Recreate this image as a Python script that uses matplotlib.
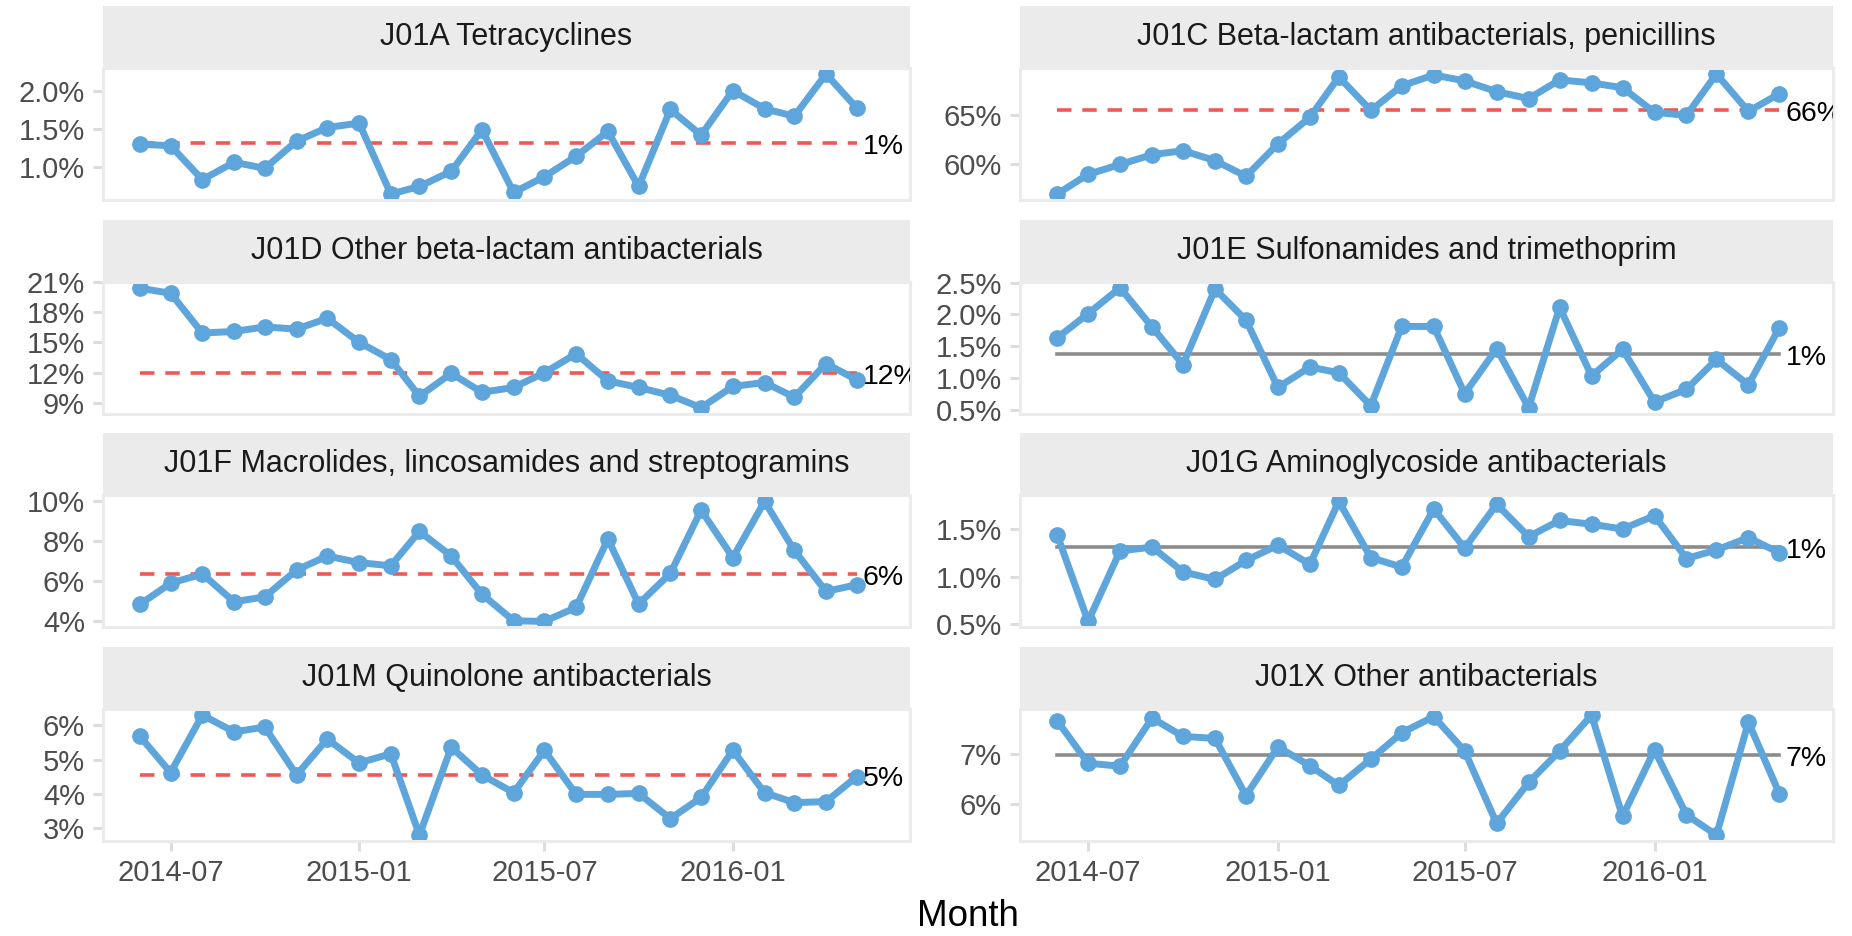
import numpy as np
import pandas as pd
import matplotlib
matplotlib.use('Agg')
import matplotlib.pyplot as plt
from matplotlib.transforms import offset_copy

plt.rcParams['font.family'] = ['Liberation Sans', 'DejaVu Sans']

# monthly share of each ATC group (percent)
months = pd.date_range('2014-06-01', '2016-05-01', freq='MS')

titles = ['J01A Tetracyclines',
          'J01C Beta-lactam antibacterials, penicillins',
          'J01D Other beta-lactam antibacterials',
          'J01E Sulfonamides and trimethoprim',
          'J01F Macrolides, lincosamides and streptogramins',
          'J01G Aminoglycoside antibacterials',
          'J01M Quinolone antibacterials',
          'J01X Other antibacterials']

j01a = [1.30, 1.28, 0.83, 1.06, 0.98, 1.34, 1.52, 1.58, 0.64, 0.74, 0.94, 1.49,
        0.66, 0.87, 1.14, 1.47, 0.74, 1.76, 1.42, 2.01, 1.77, 1.67, 2.23, 1.78]
j01c = [57.0, 59.0, 60.0, 61.0, 61.4, 60.4, 58.8, 62.1, 64.8, 68.9, 65.5, 68.0,
        69.1, 68.5, 67.4, 66.7, 68.6, 68.3, 67.8, 65.3, 65.0, 69.2, 65.4, 67.2]
j01d = [20.35, 19.86, 15.91, 16.07, 16.52, 16.30, 17.37, 15.0, 13.28, 9.65, 11.92, 10.04,
        10.52, 11.98, 13.86, 11.17, 10.52, 9.74, 8.51, 10.62, 11.01, 9.55, 12.89, 11.27]
j01e = [1.63, 2.01, 2.42, 1.80, 1.21, 2.40, 1.91, 0.85, 1.17, 1.08, 0.56, 1.81,
        1.81, 0.75, 1.46, 0.53, 2.11, 1.03, 1.45, 0.62, 0.82, 1.29, 0.89, 1.79]
j01f = [4.85, 5.91, 6.37, 4.98, 5.23, 6.57, 7.27, 6.94, 6.78, 8.50, 7.27, 5.36,
        4.03, 4.00, 4.70, 8.12, 4.87, 6.40, 9.56, 7.19, 10.0, 7.55, 5.50, 5.83]
j01g = [1.44, 0.53, 1.27, 1.31, 1.05, 0.97, 1.17, 1.33, 1.13, 1.79, 1.20, 1.10,
        1.71, 1.30, 1.76, 1.42, 1.59, 1.55, 1.50, 1.64, 1.19, 1.28, 1.41, 1.25]
j01m = [5.68, 4.62, 6.30, 5.81, 5.95, 4.55, 5.60, 4.90, 5.17, 2.79, 5.36, 4.55,
        4.03, 5.27, 3.98, 3.98, 4.01, 3.27, 3.89, 5.27, 4.03, 3.74, 3.77, 4.50]
j01x = [7.65, 6.81, 6.75, 7.70, 7.34, 7.30, 6.17, 7.13, 6.76, 6.37, 6.89, 7.41,
        7.73, 7.05, 5.62, 6.43, 7.05, 7.76, 5.76, 7.07, 5.79, 5.39, 7.62, 6.21]
series = [j01a, j01c, j01d, j01e, j01f, j01g, j01m, j01x]

ref_values = [1.32, 65.5, 12.0, 1.37, 6.37, 1.31, 4.55, 6.97]
ref_labels = ['1%', '66%', '12%', '1%', '6%', '1%', '5%', '7%']
ref_signif = [True, True, True, False, True, False, True, False]

y_ticks = [[1.0, 1.5, 2.0], [60, 65], [9, 12, 15, 18, 21], [0.5, 1.0, 1.5, 2.0, 2.5],
           [4, 6, 8, 10], [0.5, 1.0, 1.5], [3, 4, 5, 6], [6, 7]]
y_tick_labels = [['1.0%', '1.5%', '2.0%'], ['60%', '65%'],
                 ['9%', '12%', '15%', '18%', '21%'],
                 ['0.5%', '1.0%', '1.5%', '2.0%', '2.5%'],
                 ['4%', '6%', '8%', '10%'], ['0.5%', '1.0%', '1.5%'],
                 ['3%', '4%', '5%', '6%'], ['6%', '7%']]

x_ticks = pd.to_datetime(['2014-07-01', '2015-01-01', '2015-07-01', '2016-01-01'])
x_tick_labels = ['2014-07', '2015-01', '2015-07', '2016-01']

W, H = 1852, 936
fig = plt.figure(figsize=(W / 100, H / 100), dpi=100)

col_left = [103, 1020]
col_right = [910, 1833]
strip_h = 62
panel_h = 132
border = '#EBEBEB'

for i, title in enumerate(titles):
    row, col = divmod(i, 2)
    top = 6 + row * 213.7
    l = col_left[col] / W
    w = (col_right[col] - col_left[col]) / W

    sax = fig.add_axes([l, 1 - (top + strip_h) / H, w, strip_h / H])
    sax.set_facecolor(border)
    sax.set_xticks([])
    sax.set_yticks([])
    for s in sax.spines.values():
        s.set_visible(False)
    sax.text(0.5, 0.5, title, ha='center', va='center', fontsize=22, color='#1A1A1A',
             transform=sax.transAxes)

    ax = fig.add_axes([l, 1 - (top + strip_h + panel_h) / H, w, panel_h / H])
    ref_col = '#F15854' if ref_signif[i] else '#8C8C8C'
    ref_ls = (0, (4, 3)) if ref_signif[i] else '-'
    ax.plot([months[0], months[-1]], [ref_values[i], ref_values[i]], color=ref_col,
            lw=2.6, ls=ref_ls, zorder=1)
    ax.plot(months, series[i], color='#5DA5DA', lw=5, marker='o', ms=11,
            solid_joinstyle='round', zorder=2)
    lab_tr = offset_copy(ax.transData, fig=fig, x=0, y=-4, units='dots')
    ax.text(months[-1] + pd.Timedelta(days=6), ref_values[i], ref_labels[i],
            ha='left', va='center', fontsize=20.5, color='black', clip_on=True,
            transform=lab_tr, zorder=3)

    ax.set_xlim(pd.Timestamp('2014-04-26'), pd.Timestamp('2016-06-22'))
    ax.margins(y=0.05)
    ax.set_yticks(y_ticks[i])
    ax.set_yticklabels(y_tick_labels[i])
    ax.set_xticks(x_ticks)
    ax.set_xticklabels(x_tick_labels)
    ax.tick_params(axis='both', length=7, width=2.2, color='#DDDDDD',
                   labelsize=21, labelcolor='#4D4D4D', pad=6)
    if row < 3:
        ax.tick_params(axis='x', bottom=False, labelbottom=False)
    for s in ax.spines.values():
        s.set_color(border)
        s.set_linewidth(2.2)

fig.text(968 / W, 1 - 917 / H, 'Month', ha='center', va='center', fontsize=26.5)

fig.savefig('out.png', dpi=100)
